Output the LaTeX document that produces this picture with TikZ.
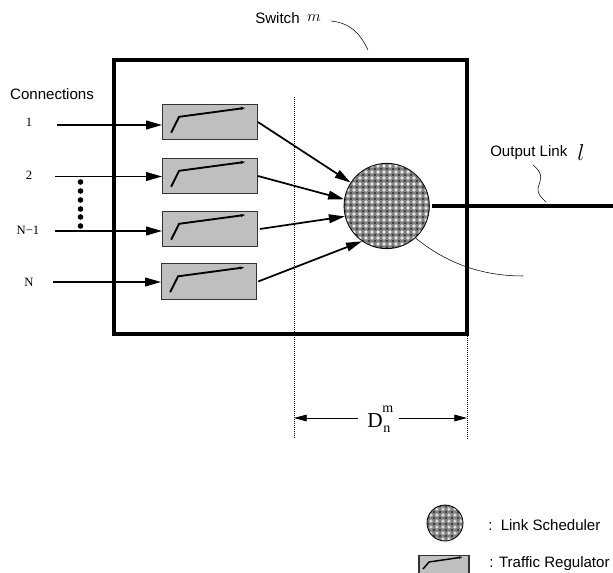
\documentclass[tikz,border=0pt]{standalone}
\usepackage{fontspec}
\setmainfont{Liberation Sans}
\newfontfamily\timesfont{Liberation Serif}
\usetikzlibrary{arrows.meta,positioning,patterns}
\newcommand{\labelsize}{\fontsize{11.3}{13}\selectfont}
\newcommand{\numsize}{\fontsize{9.5}{11}\selectfont\timesfont}
\pgfdeclarepatterninherentlycolored{schedweave}{\pgfpointorigin}{\pgfqpoint{4.8pt}{4.8pt}}{\pgfqpoint{4.8pt}{4.8pt}}{
  \pgfsetfillcolor{black!50}
  \pgfpathrectangle{\pgfpointorigin}{\pgfqpoint{4.8pt}{4.8pt}}
  \pgfusepath{fill}
  \pgfsetfillcolor{black!5}
  \pgfpathrectangle{\pgfqpoint{1.95pt}{1.05pt}}{\pgfqpoint{0.9pt}{2.7pt}}
  \pgfpathrectangle{\pgfqpoint{1.05pt}{1.95pt}}{\pgfqpoint{2.7pt}{0.9pt}}
  \pgfusepath{fill}
  \pgfsetfillcolor{black!75}
  \pgfpathrectangle{\pgfpointorigin}{\pgfqpoint{0.7pt}{0.7pt}}
  \pgfpathrectangle{\pgfqpoint{4.1pt}{0pt}}{\pgfqpoint{0.7pt}{0.7pt}}
  \pgfpathrectangle{\pgfqpoint{0pt}{4.1pt}}{\pgfqpoint{0.7pt}{0.7pt}}
  \pgfpathrectangle{\pgfqpoint{4.1pt}{4.1pt}}{\pgfqpoint{0.7pt}{0.7pt}}
  \pgfusepath{fill}
}

\begin{document}
\begin{tikzpicture}[
    x=0.75pt, y=-0.75pt,
    font=\labelsize,
    regbox/.style={draw=black!80, fill=black!25, line width=0.8pt, minimum width=71pt, minimum height=26.5pt, inner sep=0pt},
    schedcircle/.style={circle, draw=black, line width=0.6pt, inner sep=0pt, pattern=schedweave},
    flow/.style={line width=1.3pt, -{Triangle[length=12pt,width=6.5pt]}},
    ramp/.style={line width=1.4pt, -{Latex[length=4pt,width=2.5pt]}},
    leader/.style={line width=0.4pt},
    guide/.style={line width=0.5pt, densely dotted},
    dimline/.style={line width=0.6pt, -{Triangle[length=9.5pt,width=5pt]}},
    numlabel/.style={font=\numsize, inner sep=1pt}
]

  \clip (0,0) rectangle (613,573);
  \useasboundingbox (0,0) rectangle (613,573);

  % Switch frame
  \node[draw=black, line width=3pt, minimum width=264.5pt, minimum height=205.5pt, inner sep=0pt] (switch) at (290.7,197) {};
  \node[anchor=west, inner sep=0pt] (switchlabel) at (255,18) {Switch};
  \node[font=\fontsize{13}{15}\selectfont, inner sep=0pt] (switchm) at (314,18) {$m$};
  \coordinate (switchend) at (368,50);
  \draw[leader] (331,21) .. controls (350,23) and (360,33) .. (switchend);

  % Regulators
  \node[regbox] (reg1) at (210,122) {};
  \node[regbox] (reg2) at (210,176) {};
  \node[regbox] (reg3) at (210,229) {};
  \node[regbox] (reg4) at (209,281.5) {};
  \foreach \n in {1,2,3,4} {
    \draw[ramp] ([shift={(9,29)}]reg\n.north west) -- ([shift={(17,13)}]reg\n.north west) -- ([shift={(84,4)}]reg\n.north west);
  }

  % Connections
  \node[inner sep=0pt] (connections) at (52,94.5) {Connections};
  \node[numlabel] (lab1) at (29,122) {1};
  \node[numlabel] (lab2) at (29,175) {2};
  \node[numlabel] (lab3) at (28,230) {N−1};
  \node[numlabel] (lab4) at (29,282) {N};
  \coordinate (in1) at (57,125);
  \coordinate (in2) at (55,176.5);
  \coordinate (in3) at (55,231);
  \coordinate (in4) at (53,282);
  \draw[flow] (in1) -- (in1 -| reg1.west);
  \draw[flow] (in2) -- (in2 -| reg2.west);
  \draw[flow] (in3) -- (in3 -| reg3.west);
  \draw[flow] (in4) -- (in4 -| reg4.west);
  \foreach \y in {182,191,200,209,217,226} {
    \fill (80.5,\y) circle (2.1pt);
  }

  % Link scheduler
  \node[schedcircle, minimum size=64pt] (sched) at (386.7,206) {};
  \draw[flow] (reg1.east) -- (sched.147);
  \draw[flow] (reg2.east) -- (sched.171);
  \draw[flow] ([xshift=1.5pt]reg3.east) -- (sched.194);
  \draw[flow] ([xshift=1pt]reg4.east) -- (sched.235);
  \coordinate (schedend) at (523,276);
  \draw[leader] (sched.-48) .. controls (445,262) and (480,276) .. (schedend);

  % Output link
  \coordinate (linkend) at (613,206);
  \draw[line width=3pt] (sched.east) ++(2,0) -- (linkend);
  \node[anchor=west, inner sep=0pt] (outlabel) at (490,153) {Output Link};
  \node[font=\fontsize{16}{18}\selectfont, inner sep=0pt] (outl) at (581,153) {$l$};
  \draw[leader] (533,165) .. controls (545,175) and (540,180) .. (538,188) .. controls (537,194) and (542,198) .. (546,202);

  % Delay
  \coordinate (guideA) at (294.5,97);
  \coordinate (guideB) at (294.5,438);
  \coordinate (guideC) at (467,334);
  \coordinate (guideD) at (467,439);
  \draw[guide] (guideA) -- (guideB);
  \draw[guide] (guideC) -- (guideD);
  \node[inner sep=0pt, minimum width=30.7pt, minimum height=20pt] (delay) at (378.5,418) {};
  \node[font=\fontsize{16}{18}\selectfont\timesfont, inner sep=0pt, anchor=base west] (delaylabel) at (367,427) {D};
  \node[font=\fontsize{10.5}{12}\selectfont\timesfont, inner sep=0pt, anchor=base west] (delaysup) at (382,412.7) {m};
  \node[font=\fontsize{10.5}{12}\selectfont\timesfont, inner sep=0pt, anchor=base west] (delaysub) at (383,432) {n};
  \coordinate (delayL) at (294,418);
  \coordinate (delayR) at (467,418);
  \draw[dimline] (delay) -- (delayL);
  \draw[dimline] (delay) -- (delayR);

  % Legend
  \node[schedcircle, minimum size=27pt] (legsched) at (445,523) {};
  \node[anchor=west, inner sep=0pt] (legschedtext) at (488,525) {:\hspace{0.55em}Link Scheduler};
  \node[regbox, minimum width=37.5pt] (legreg) at (444,573) {};
  \draw[ramp, line width=1.1pt, -{Latex[length=3pt,width=2pt]}] (423,569) -- (429,562) -- (463,557);
  \node[anchor=west, inner sep=0pt] (legregtext) at (489,564) {: Traffic Regulator};

\end{tikzpicture}
\end{document}
